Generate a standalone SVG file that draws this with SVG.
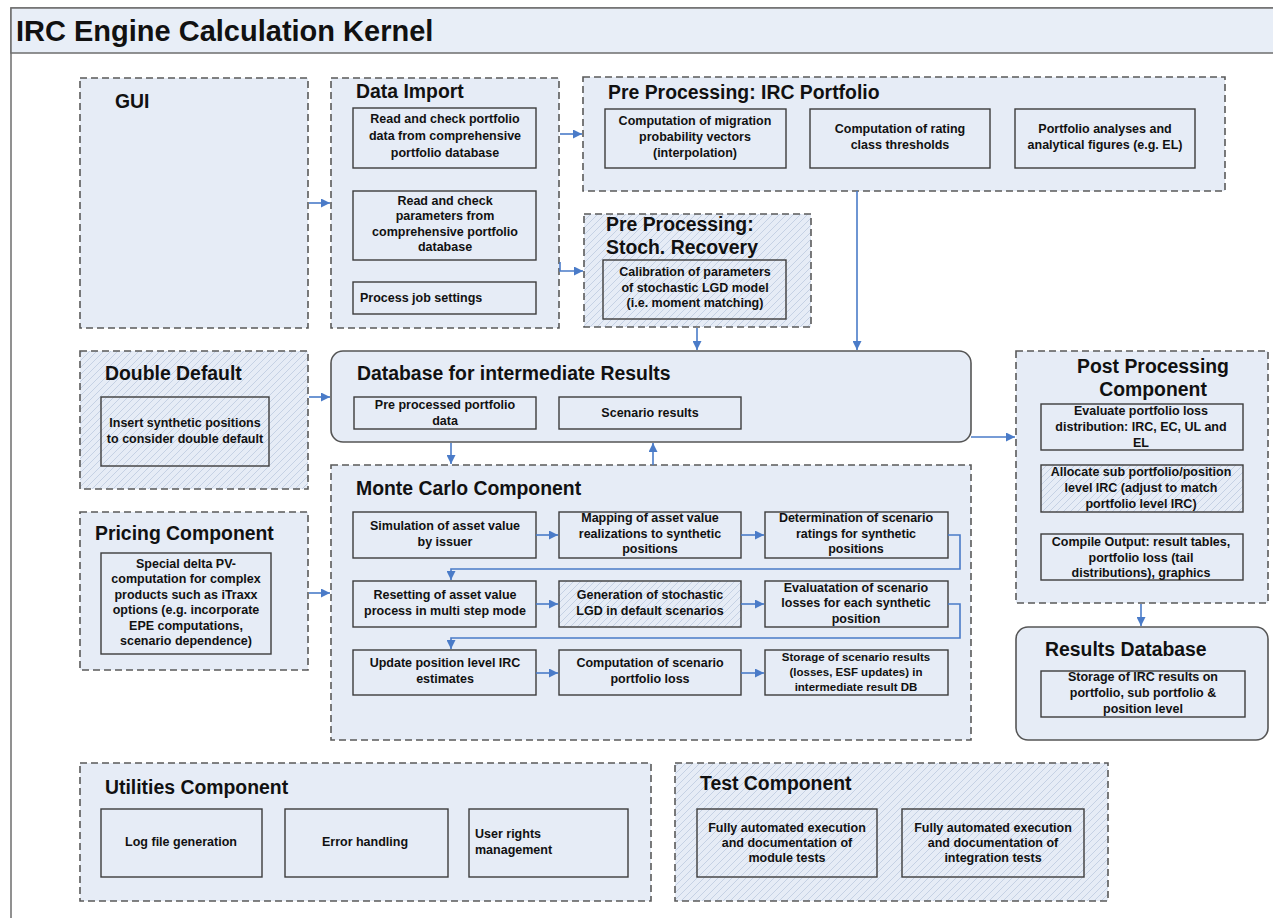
<svg xmlns="http://www.w3.org/2000/svg" width="1273" height="918" viewBox="0 0 1273 918">
  <style>
    .frame { fill: #ffffff; stroke: #6e6e6e; stroke-width: 1.5; }
    .bar { fill: #e8eef7; stroke: #6e6e6e; stroke-width: 1.5; }
    .grp { fill: #e6ecf6; stroke: #5a5a5a; stroke-width: 1.6; stroke-dasharray: 7 4; }
    .grph { fill: url(#hatch); stroke: #5a5a5a; stroke-width: 1.6; stroke-dasharray: 7 4; }
    .db { fill: #e6ecf6; stroke: #555555; stroke-width: 1.6; }
    .box { fill: #e6ecf6; stroke: #3c3c3c; stroke-width: 1.4; }
    .hbox { fill: url(#hatch); stroke: #3c3c3c; stroke-width: 1.4; }
    .h1 { font-family: "Liberation Sans", Arial, sans-serif; font-weight: bold; font-size: 29px; fill: #111; }
    .t { font-family: "Liberation Sans", Arial, sans-serif; font-weight: bold; font-size: 19.4px; fill: #111; }
    .s { font-family: "Liberation Sans", Arial, sans-serif; font-weight: bold; font-size: 12.5px; fill: #111; text-anchor: middle; }
    .sl { font-family: "Liberation Sans", Arial, sans-serif; font-weight: bold; font-size: 12.5px; fill: #111; }
    .c { fill: none; stroke: #4a7bc8; stroke-width: 1.6; marker-end: url(#arr); }
  </style>
  <defs>
    <pattern id="hatch" patternUnits="userSpaceOnUse" width="7" height="7">
      <rect width="7" height="7" fill="#e6ecf6"/>
      <path d="M-1,1 l2,-2 M0,7 l7,-7 M6,8 l2,-2" stroke="#bccae0" stroke-width="0.8"/>
    </pattern>
    <marker id="arr" viewBox="0 0 10 10" refX="10" refY="5" markerWidth="9" markerHeight="9" markerUnits="userSpaceOnUse" orient="auto">
      <path d="M0,0 L10,5 L0,10 z" fill="#4a7bc8"/>
    </marker>
  </defs>

  <!-- page frame and title bar -->
  <g id="frame">
    <rect class="frame" x="11" y="8" width="1280" height="930"/>
    <rect class="bar" x="11" y="8" width="1280" height="45"/>
    <text class="h1" x="16" y="41">IRC Engine Calculation Kernel</text>
  </g>

  <!-- GUI -->
  <g id="gui">
    <rect class="grp" x="80" y="78" width="228" height="250"/>
    <text class="t" x="115" y="108">GUI</text>
  </g>

  <!-- Data Import -->
  <g id="data-import">
    <rect class="grp" x="331" y="78" width="228" height="250"/>
    <text class="t" x="356" y="98">Data Import</text>
    <rect class="box" x="353" y="108" width="183" height="60"/>
    <text class="s"><tspan x="445" y="123">Read and check portfolio</tspan><tspan x="445" y="140">data from comprehensive</tspan><tspan x="445" y="157">portfolio database</tspan></text>
    <rect class="box" x="353" y="191" width="183" height="69"/>
    <text class="s"><tspan x="445" y="205">Read and check</tspan><tspan x="445" y="220">parameters from</tspan><tspan x="445" y="236">comprehensive portfolio</tspan><tspan x="445" y="251">database</tspan></text>
    <rect class="box" x="353" y="282" width="183" height="32"/>
    <text class="sl" x="360" y="302">Process job settings</text>
  </g>

  <!-- Pre Processing: IRC Portfolio -->
  <g id="pre-irc">
    <rect class="grp" x="583" y="77" width="642" height="114"/>
    <text class="t" x="608" y="99">Pre Processing: IRC Portfolio</text>
    <rect class="box" x="605" y="109" width="181" height="59"/>
    <text class="s"><tspan x="695" y="125">Computation of migration</tspan><tspan x="695" y="141">probability vectors</tspan><tspan x="695" y="157">(interpolation)</tspan></text>
    <rect class="box" x="810" y="109" width="180" height="59"/>
    <text class="s"><tspan x="900" y="133">Computation of rating</tspan><tspan x="900" y="149">class thresholds</tspan></text>
    <rect class="box" x="1015" y="109" width="180" height="59"/>
    <text class="s"><tspan x="1105" y="133">Portfolio analyses and</tspan><tspan x="1105" y="149">analytical figures (e.g. EL)</tspan></text>
  </g>

  <!-- Pre Processing: Stoch. Recovery -->
  <g id="pre-recovery">
    <rect class="grph" x="584" y="214" width="227" height="113"/>
    <text class="t"><tspan x="606" y="231">Pre Processing:</tspan><tspan x="606" y="254">Stoch. Recovery</tspan></text>
    <rect class="hbox" x="603" y="260" width="183" height="59"/>
    <text class="s"><tspan x="695" y="276">Calibration of parameters</tspan><tspan x="695" y="292">of stochastic LGD  model</tspan><tspan x="695" y="307">(i.e. moment matching)</tspan></text>
  </g>

  <!-- Double Default -->
  <g id="double-default">
    <rect class="grph" x="80" y="351" width="228" height="138"/>
    <text class="t" x="105" y="380">Double Default</text>
    <rect class="hbox" x="101" y="397" width="168" height="69"/>
    <text class="s"><tspan x="185" y="427">Insert synthetic positions</tspan><tspan x="185" y="443">to consider double default</tspan></text>
  </g>

  <!-- Pricing Component -->
  <g id="pricing">
    <rect class="grp" x="80" y="512" width="228" height="158"/>
    <text class="t" x="95" y="540">Pricing Component</text>
    <rect class="box" x="101" y="553" width="170" height="101"/>
    <text class="s"><tspan x="186" y="568">Special delta PV-</tspan><tspan x="186" y="583">computation for complex</tspan><tspan x="186" y="599">products such as iTraxx</tspan><tspan x="186" y="614">options (e.g. incorporate</tspan><tspan x="186" y="630">EPE computations,</tspan><tspan x="186" y="645">scenario dependence)</tspan></text>
  </g>

  <!-- Database for intermediate Results -->
  <g id="intermediate-db">
    <rect class="db" x="331" y="351" width="640" height="91" rx="12" ry="12"/>
    <text class="t" x="357" y="380">Database for intermediate Results</text>
    <rect class="box" x="354" y="397" width="182" height="32"/>
    <text class="s"><tspan x="445" y="409">Pre processed portfolio</tspan><tspan x="445" y="425">data</tspan></text>
    <rect class="box" x="559" y="397" width="182" height="32"/>
    <text class="s" x="650" y="417">Scenario results</text>
  </g>

  <!-- Monte Carlo Component -->
  <g id="monte-carlo">
    <rect class="grp" x="331" y="465" width="640" height="275"/>
    <text class="t" x="356" y="495">Monte Carlo Component</text>
    <rect class="box" x="353" y="512" width="183" height="46"/>
    <text class="s"><tspan x="445" y="530">Simulation of asset value</tspan><tspan x="445" y="546">by issuer</tspan></text>
    <rect class="box" x="559" y="512" width="182" height="46"/>
    <text class="s"><tspan x="650" y="522">Mapping of asset value</tspan><tspan x="650" y="538">realizations to synthetic</tspan><tspan x="650" y="553">positions</tspan></text>
    <rect class="box" x="765" y="512" width="183" height="46"/>
    <text class="s"><tspan x="856" y="522">Determination of scenario</tspan><tspan x="856" y="538">ratings for synthetic</tspan><tspan x="856" y="553">positions</tspan></text>

    <rect class="box" x="353" y="581" width="183" height="46"/>
    <text class="s"><tspan x="445" y="599">Resetting of asset value</tspan><tspan x="445" y="615">process in multi step mode</tspan></text>
    <rect class="hbox" x="559" y="581" width="182" height="46"/>
    <text class="s"><tspan x="650" y="599">Generation of stochastic</tspan><tspan x="650" y="615">LGD in default scenarios</tspan></text>
    <rect class="box" x="765" y="581" width="183" height="46"/>
    <text class="s"><tspan x="856" y="592">Evaluatation of scenario</tspan><tspan x="856" y="607">losses for each synthetic</tspan><tspan x="856" y="623">position</tspan></text>

    <rect class="box" x="353" y="650" width="183" height="45"/>
    <text class="s"><tspan x="445" y="667">Update position level IRC</tspan><tspan x="445" y="683">estimates</tspan></text>
    <rect class="box" x="559" y="650" width="182" height="45"/>
    <text class="s"><tspan x="650" y="667">Computation of scenario</tspan><tspan x="650" y="683">portfolio loss</tspan></text>
    <rect class="box" x="765" y="650" width="183" height="45"/>
    <text class="s" style="font-size:11.5px"><tspan x="856" y="661">Storage of scenario results</tspan><tspan x="856" y="676">(losses, ESF updates) in</tspan><tspan x="856" y="691">intermediate result DB</tspan></text>
  </g>

  <!-- Post Processing Component -->
  <g id="post-processing">
    <rect class="grp" x="1016" y="351" width="252" height="252"/>
    <text class="t" text-anchor="middle"><tspan x="1153" y="373">Post Processing</tspan><tspan x="1153" y="396">Component</tspan></text>
    <rect class="box" x="1041" y="404" width="202" height="46"/>
    <text class="s"><tspan x="1141" y="415">Evaluate portfolio loss</tspan><tspan x="1141" y="431">distribution: IRC, EC, UL and</tspan><tspan x="1141" y="447">EL</tspan></text>
    <rect class="hbox" x="1041" y="465" width="202" height="47"/>
    <text class="s"><tspan x="1141" y="476">Allocate sub portfolio/position</tspan><tspan x="1141" y="492">level IRC (adjust to match</tspan><tspan x="1141" y="508">portfolio level IRC)</tspan></text>
    <rect class="box" x="1041" y="534" width="202" height="46"/>
    <text class="s"><tspan x="1141" y="546">Compile Output: result tables,</tspan><tspan x="1141" y="562">portfolio loss (tail</tspan><tspan x="1141" y="577">distributions), graphics</tspan></text>
  </g>

  <!-- Results Database -->
  <g id="results-db">
    <rect class="db" x="1016" y="627" width="252" height="113" rx="12" ry="12"/>
    <text class="t" x="1045" y="656">Results Database</text>
    <rect class="box" x="1041" y="671" width="204" height="46"/>
    <text class="s"><tspan x="1143" y="681">Storage of IRC results on</tspan><tspan x="1143" y="697">portfolio, sub portfolio &amp;</tspan><tspan x="1143" y="713">position level</tspan></text>
  </g>

  <!-- Utilities Component -->
  <g id="utilities">
    <rect class="grp" x="80" y="763" width="571" height="138"/>
    <text class="t" x="105" y="794">Utilities Component</text>
    <rect class="box" x="101" y="809" width="161" height="68"/>
    <text class="s" x="181" y="846">Log file generation</text>
    <rect class="box" x="285" y="809" width="163" height="68"/>
    <text class="s" x="365" y="846">Error handling</text>
    <rect class="box" x="469" y="809" width="159" height="68"/>
    <text class="sl"><tspan x="475" y="838">User rights</tspan><tspan x="475" y="854">management</tspan></text>
  </g>

  <!-- Test Component -->
  <g id="test">
    <rect class="grph" x="675" y="763" width="433" height="138"/>
    <text class="t" x="700" y="790">Test Component</text>
    <rect class="hbox" x="697" y="809" width="180" height="68"/>
    <text class="s"><tspan x="787" y="832">Fully automated execution</tspan><tspan x="787" y="847">and documentation of</tspan><tspan x="787" y="862">module tests</tspan></text>
    <rect class="hbox" x="902" y="809" width="182" height="68"/>
    <text class="s"><tspan x="993" y="832">Fully automated execution</tspan><tspan x="993" y="847">and documentation of</tspan><tspan x="993" y="862">integration tests</tspan></text>
  </g>

  <!-- connectors -->
  <g id="connectors">
    <path class="c" d="M309,203 H330"/>
    <path class="c" d="M560,134 H582"/>
    <path class="c" d="M560,262 V271 H583"/>
    <path class="c" d="M697,328 V350"/>
    <path class="c" d="M857,191 V350"/>
    <path class="c" d="M309,397 H330"/>
    <path class="c" d="M309,593 H330"/>
    <path class="c" d="M451,443 V464"/>
    <path class="c" d="M653,465 V443"/>
    <path class="c" d="M971,437 H1015"/>
    <path class="c" d="M1141,604 V626"/>
    <path class="c" d="M536,535 H558"/>
    <path class="c" d="M741,535 H764"/>
    <path class="c" d="M948,535 H960 V569 H451 V580"/>
    <path class="c" d="M536,604 H558"/>
    <path class="c" d="M741,604 H764"/>
    <path class="c" d="M948,604 H960 V638 H451 V649"/>
    <path class="c" d="M536,673 H558"/>
    <path class="c" d="M741,673 H764"/>
  </g>
</svg>
